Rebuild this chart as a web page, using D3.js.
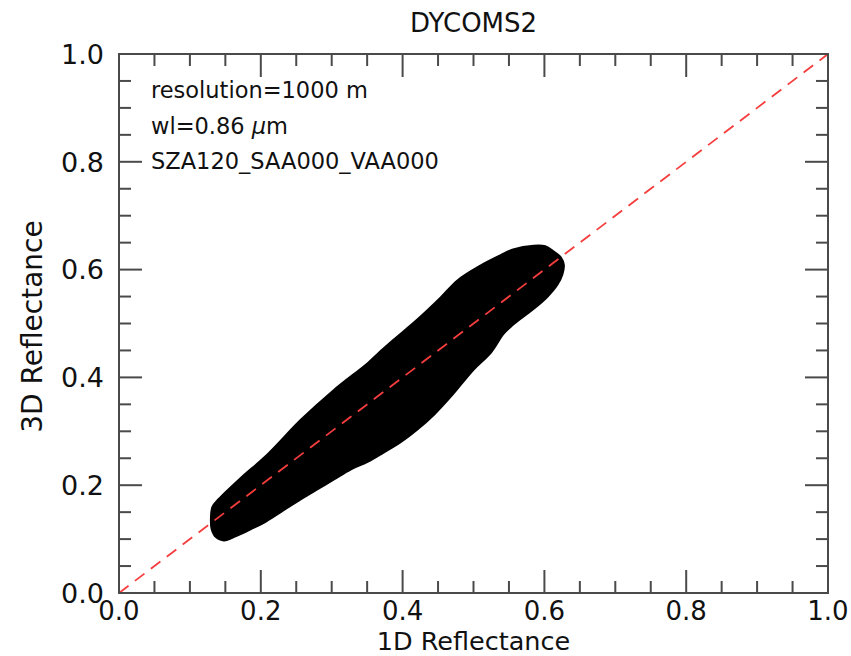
<!DOCTYPE html>
<html lang="en">
<head>
    <meta charset="UTF-8">
    <title>DYCOMS2</title>
    <style>
        body{ margin: 0; background: #fff; }
        text{ font-family: "DejaVu Sans", sans-serif; fill: #111; }
    </style>
</head>
<body>
<script src="https://d3js.org/d3.v7.min.js" charset="utf-8"></script>
<script>
    // outline of the scatter cloud (1D reflectance, 3D reflectance)
    var outline1D = [0.130, 0.132, 0.141, 0.172, 0.210, 0.256, 0.303, 0.351, 0.369, 0.387,
        0.421, 0.454, 0.478, 0.510, 0.538, 0.556, 0.585, 0.601, 0.613, 0.623,
        0.627, 0.625, 0.618, 0.604, 0.587, 0.570, 0.552, 0.542, 0.524, 0.500,
        0.468, 0.444, 0.421, 0.397, 0.373, 0.351, 0.327, 0.303, 0.280, 0.256,
        0.232, 0.207, 0.186, 0.165, 0.148, 0.137, 0.131];
    var outline3D = [0.137, 0.159, 0.174, 0.213, 0.257, 0.320, 0.376, 0.426, 0.448, 0.469,
        0.507, 0.548, 0.580, 0.607, 0.626, 0.637, 0.644, 0.643, 0.633, 0.622,
        0.609, 0.591, 0.572, 0.550, 0.530, 0.513, 0.494, 0.481, 0.446, 0.415,
        0.365, 0.331, 0.304, 0.280, 0.261, 0.244, 0.230, 0.211, 0.193, 0.174,
        0.154, 0.133, 0.119, 0.106, 0.098, 0.104, 0.119];

    var majorTicks = [0.0, 0.2, 0.4, 0.6, 0.8, 1.0];
    var minorTicks = d3.range(0, 1.0001, 0.05);
    var notes = ["resolution=1000 m", "wl=0.86 ", "SZA120_SAA000_VAA000"];

    var width = 851, height = 656;
    var x0 = 119, x1 = 828, y0 = 593, y1 = 54;
    var tickMajor = 23, tickMinor = 12;
    var axisColor = "#4a4a4a";

    var svg = d3.select("body").append("svg")
        .attr("width", width)
        .attr("height", height);

    var x = d3.scaleLinear().domain([0, 1]).range([x0, x1]);
    var y = d3.scaleLinear().domain([0, 1]).range([y0, y1]);

    /* cloud of points */
    var cloud = d3.zip(outline1D, outline3D);
    svg.append("path")
        .datum(cloud)
        .attr("d", d3.line()
            .x(function (d) { return x(d[0]); })
            .y(function (d) { return y(d[1]); })
            .curve(d3.curveCatmullRomClosed))
        .attr("fill", "#000")
        .attr("stroke", "#000")
        .attr("stroke-width", 2.5)
        .attr("stroke-linejoin", "round");

    /* 1:1 line */
    svg.append("line")
        .attr("x1", x(0)).attr("y1", y(0))
        .attr("x2", x(1)).attr("y2", y(1))
        .attr("stroke", "#f53d3d")
        .attr("stroke-width", 1.8)
        .attr("stroke-dasharray", "12,8");

    /* frame */
    svg.append("rect")
        .attr("x", x0).attr("y", y1)
        .attr("width", x1 - x0).attr("height", y0 - y1)
        .attr("fill", "none")
        .attr("stroke", axisColor)
        .attr("stroke-width", 2);

    /* ticks, inward on every side */
    function isMajor(d) {
        return Math.abs(d * 5 - Math.round(d * 5)) < 1e-6;
    }
    function len(d) { return isMajor(d) ? tickMajor : tickMinor; }
    var inner = minorTicks.filter(function (d) { return d > 0.001 && d < 0.999; });

    var axisX = svg.append("g").attr("stroke", axisColor).attr("stroke-width", 2);
    axisX.selectAll(".tb").data(inner).enter().append("line")
        .attr("x1", function (d) { return x(d); }).attr("x2", function (d) { return x(d); })
        .attr("y1", y0).attr("y2", function (d) { return y0 - len(d); });
    axisX.selectAll(".tt").data(inner).enter().append("line")
        .attr("x1", function (d) { return x(d); }).attr("x2", function (d) { return x(d); })
        .attr("y1", y1).attr("y2", function (d) { return y1 + len(d); });
    axisX.selectAll(".tl").data(inner).enter().append("line")
        .attr("y1", function (d) { return y(d); }).attr("y2", function (d) { return y(d); })
        .attr("x1", x0).attr("x2", function (d) { return x0 + len(d); });
    axisX.selectAll(".tr").data(inner).enter().append("line")
        .attr("y1", function (d) { return y(d); }).attr("y2", function (d) { return y(d); })
        .attr("x1", x1).attr("x2", function (d) { return x1 - len(d); });

    /* tick labels */
    svg.selectAll(".xl").data(majorTicks).enter().append("text")
        .attr("x", function (d) { return x(d); })
        .attr("y", 619.5)
        .attr("text-anchor", "middle")
        .attr("font-size", "26px")
        .text(function (d) { return d.toFixed(1); });
    svg.selectAll(".yl").data(majorTicks).enter().append("text")
        .attr("x", 104)
        .attr("y", function (d) { return y(d); })
        .attr("dy", "0.36em")
        .attr("text-anchor", "end")
        .attr("font-size", "27px")
        .text(function (d) { return d.toFixed(1); });

    /* titles */
    svg.append("text")
        .attr("x", (x0 + x1) / 2).attr("y", 32)
        .attr("text-anchor", "middle")
        .attr("font-size", "26px")
        .text("DYCOMS2");
    svg.append("text")
        .attr("x", (x0 + x1) / 2).attr("y", 650)
        .attr("text-anchor", "middle")
        .attr("font-size", "25.5px")
        .text("1D Reflectance");
    svg.append("text")
        .attr("transform", "translate(42," + ((y0 + y1) / 2 + 3) + ") rotate(-90)")
        .attr("text-anchor", "middle")
        .attr("font-size", "28px")
        .text("3D Reflectance");

    /* notes */
    var note = svg.selectAll(".note").data(notes).enter().append("text")
        .attr("x", 151)
        .attr("y", function (d, i) { return 98 + i * 35.5; })
        .attr("font-size", "22.5px")
        .text(function (d) { return d; });
    // italic mu in the wavelength line
    note.filter(function (d, i) { return i == 1; })
        .append("tspan").attr("font-style", "italic").text("\u03bc")
        .append("tspan").attr("font-style", "normal").text("m");
</script>
</body>
</html>
